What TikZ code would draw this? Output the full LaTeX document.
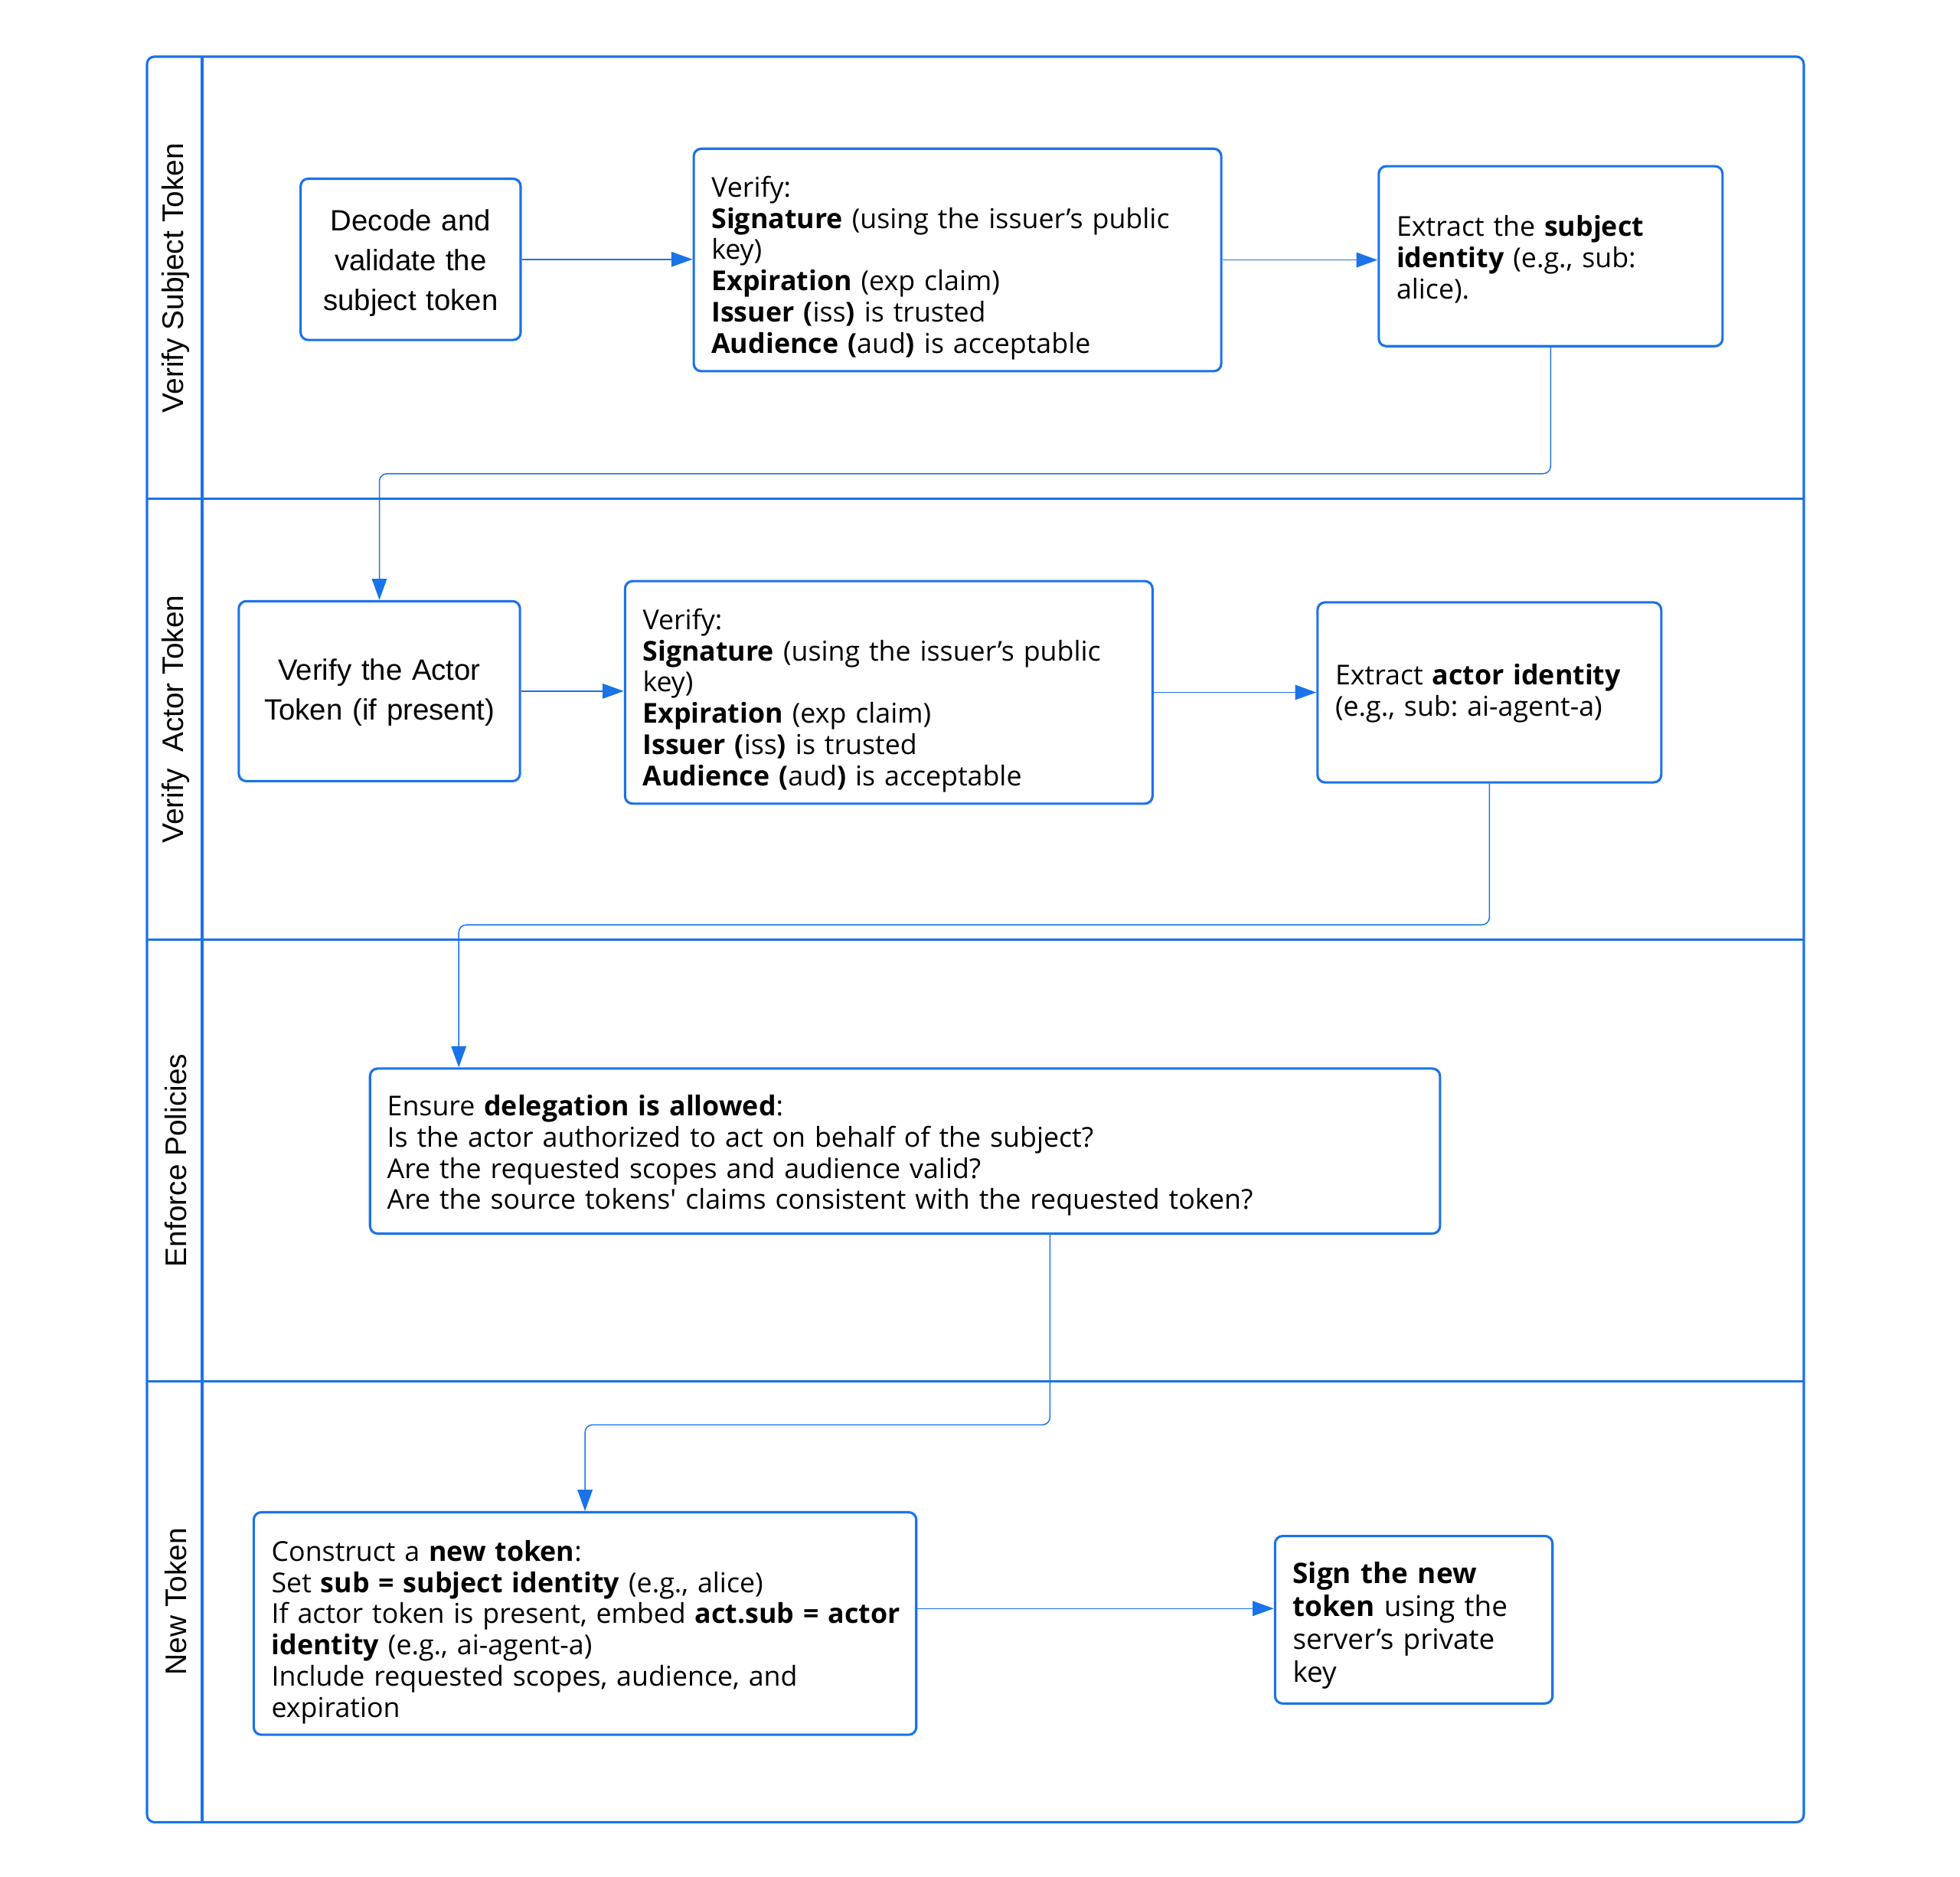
\documentclass[tikz,border=0pt]{standalone}
\usepackage{fontspec}
\setmainfont{Open Sans}
\newfontfamily\arialf{Liberation Sans}
\usetikzlibrary{arrows.meta}
\definecolor{lane}{HTML}{1A73E8}
\newcommand{\sq}{{\addfontfeature{Ligatures=TeXOff}'}}
\frenchspacing
\begin{document}
\begin{tikzpicture}[x=1pt,y=-1pt,
  frame/.style={draw=lane, line width=1.9pt},
  box/.style={draw=lane, line width=1.9pt, rounded corners=6pt, inner sep=0pt, fill=white},
  txt/.style={anchor=base west, inner sep=0pt, text width=900pt, align=left, font=\frenchspacing\fontsize{21.9}{25}\selectfont},
  bigtxt/.style={anchor=base west, inner sep=0pt, text width=400pt, align=left, font=\frenchspacing\fontsize{22.6}{26.4}\selectfont},
  ctxt/.style={anchor=base, inner sep=0pt, text width=240pt, align=center, font=\arialf\fontsize{23.5}{32}\selectfont},
  lanelbl/.style={rotate=90, inner sep=0pt, font=\arialf\fontsize{23.8}{28}\selectfont},
  conn/.style={draw=lane, line width=0.9pt, rounded corners=6pt, -{Triangle[length=17pt,width=12pt]}}]
\useasboundingbox (0,0) rectangle (1568,1501.3);

% frame and lanes
\draw[frame, rounded corners=6pt] (117.6,45.3) rectangle (1443,1458);
\draw[frame] (161.7,45.3) -- (161.7,1458);
\draw[frame] (117.6,399) -- (1443,399);
\draw[frame] (117.6,752) -- (1443,752);
\draw[frame] (117.6,1105) -- (1443,1105);

\node[lanelbl] (l1) at (140.5,222.5) {Verify Subject Token};
\node[lanelbl] (l2) at (140.5,575.5) {Verify\ \ Actor Token};
\node[lanelbl] (l3) at (140.5,928.5) {Enforce Policies};
\node[lanelbl] (l4) at (140.5,1281.5) {New Token};

% lane 1
\node[box, minimum width=176pt, minimum height=129pt] (a1) at (328.5,207.5) {};
\node[ctxt] (a1t) at (328.5,184.5) {Decode and\\validate the\\subject token};
\node[box, minimum width=422pt, minimum height=178pt] (a2) at (766,208) {};
\node[txt] (a2t) at (569,157.6) {Verify:\\\textbf{Signature} (using the issuer’s public\\key)\\\textbf{Expiration} (exp claim)\\\textbf{Issuer (}iss\textbf{)} is trusted\\\textbf{Audience (}aud\textbf{)} is acceptable};
\node[box, minimum width=275pt, minimum height=144pt] (a3) at (1240.5,205) {};
\node[txt] (a3t) at (1117,189) {Extract the \textbf{subject}\\\textbf{identity} (e.g., sub:\\alice).};

% lane 2
\node[box, minimum width=225pt, minimum height=144pt] (b1) at (303.5,553) {};
\node[ctxt] (b1t) at (303.5,544.3) {Verify the Actor\\Token (if present)};
\node[box, minimum width=422pt, minimum height=178pt] (b2) at (711,554) {};
\node[txt] (b2t) at (514,503.6) {Verify:\\\textbf{Signature} (using the issuer’s public\\key)\\\textbf{Expiration} (exp claim)\\\textbf{Issuer (}iss\textbf{)} is trusted\\\textbf{Audience (}aud\textbf{)} is acceptable};
\node[box, minimum width=275pt, minimum height=144pt] (b3) at (1191.5,554) {};
\node[txt] (b3t) at (1068,548) {Extract \textbf{actor identity}\\(e.g., sub: ai-agent-a)};

% lane 3
\node[box, minimum width=856pt, minimum height=132pt] (c1) at (724,921) {};
\node[txt] (c1t) at (309.5,892.7) {Ensure \textbf{delegation is allowed}:\\Is the actor authorized to act on behalf of the subject?\\Are the requested scopes and audience valid?\\Are the source tokens\sq{} claims consistent with the requested token?};

% lane 4
\node[box, minimum width=530pt, minimum height=178pt] (d1) at (468,1299) {};
\node[txt] (d1t) at (217,1249) {Construct a \textbf{new token}:\\Set \textbf{sub = subject identity} (e.g., alice)\\If actor token is present, embed \textbf{act.sub = actor}\\\textbf{identity} (e.g., ai-agent-a)\\Include requested scopes, audience, and\\expiration};
\node[box, minimum width=222pt, minimum height=134pt] (d2) at (1131,1296) {};
\node[bigtxt] (d2t) at (1034,1267) {\textbf{Sign the new}\\\textbf{token} using the\\server’s private\\key};

% connectors
\coordinate (k1) at (0,379);
\coordinate (k3) at (367,740);
\coordinate (k4) at (840,1140);
\coordinate (k5) at (0,1287);
\draw[conn] (a1.east) -- (a1.east -| a2.west);
\draw[conn] (a2.east) -- (a2.east -| a3.west);
\draw[conn] (a3.south) -- (a3.south |- k1) -- (b1.north |- k1) -- (b1.north);
\draw[conn] (b1.east) -- (b1.east -| b2.west);
\draw[conn] (b2.east) -- (b2.east -| b3.west);
\draw[conn] (b3.south) -- (b3.south |- k3) -- (k3) -- (k3 |- c1.north);
\draw[conn] (k4 |- c1.south) -- (k4) -- (d1.north |- k4) -- (d1.north);
\draw[conn] (d1.east |- k5) -- (d2.west |- k5);
\end{tikzpicture}
\end{document}
